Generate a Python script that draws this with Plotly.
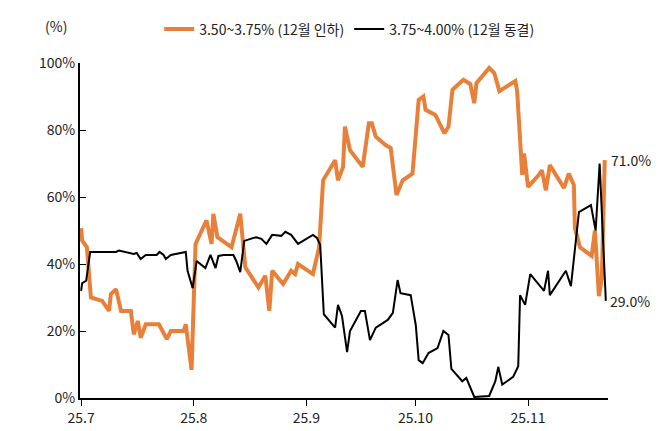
import plotly.graph_objects as go
import pandas as pd

start = pd.Timestamp("2025-07-01")
o_days = [0,0.3,1.6,2.7,5.8,7.7,8.2,9.6,11,13.7,14.5,15.6,16.4,17.8,21.4,23.6,24.7,28.2,28.8,30.4,31.5,34.5,35.9,36.4,37.5,41.4,43.8,45.2,48.8,50.7,51.8,52.6,55.6,57.8,58.9,59.7,63.8,65.5,66.6,69.9,70.7,72.1,72.6,74.0,77.5,79.2,80,81.1,83.8,85.2,86.8,88.5,91.2,92.9,94.2,94.8,97.5,100,101.1,102.2,105.2,107.1,108.2,108.8,112.3,113.7,115.1,119.5,120,121.4,121.9,123,126,126.8,127.9,129,132.9,134.2,135.6,135.9,137.3,140.5,141.4,142.5,143.3,144.1]
o_vals = [50.7,47,45,30,29,26,31,32.5,26,26,19,23,18,22,22,17.6,20,20,22,8.4,46,53,46,55,48,45,55,39,33,36.5,26,38,34,38,37,40,37,45,65,71,65,69,81,74,69,82,82,78,75.5,74.6,60.6,65,67,89,90,86,84.5,79,81,92,95,93.7,88,94,98.5,97,91.6,94.6,91.6,66.6,73,63,66.6,68,62,69.5,62.7,67,63.6,50.7,45,42.4,50,30.4,35.8,71]
b_days = [0,0.3,1.4,2.5,9.6,10.4,14.5,15.3,16.4,17.8,20.8,21.6,22.7,23.3,24.7,28.8,29.3,30.7,31.8,34.2,35.6,37,37.8,39.2,41.9,42.7,43.8,44.9,46.6,48.2,49.6,51,52.6,55.1,56.2,57.8,59.7,63.8,64.9,65.8,66.8,69.9,70.7,71.8,73.2,74,77,78.1,79.5,81.1,84.4,85.8,87.1,87.9,90.7,92.1,92.9,94,95.6,98.1,99.7,101.1,101.9,104.9,106,108.2,112.3,114,114.8,115.9,118.9,120.3,120.8,122.2,123.6,127.4,128.5,129,133.4,134.8,137,140.3,141.6,142.7,144.4]
b_vals = [32,34.3,35,43.6,43.6,44,43,43.3,41.5,42.7,42.7,43.6,42.7,41.5,42.7,43.6,38,32.8,40.9,38.8,42.7,38.8,42.4,42.7,42.7,40.9,37.6,46.9,47.5,48,47.5,46,48.7,48.4,49.6,48.7,46,48.7,47.8,45.7,25,21,27.8,24.5,13.7,20,26,26,17.3,21,23.3,25.4,35.2,31.3,30.7,21.8,11.3,10.4,13.4,14.9,20,18.8,8.7,5,6,0.3,0.6,5,9.3,4,6.3,9.5,30.7,27.8,37,32,38,30.7,38,33.4,55.5,57.6,50,70,29]
tick_days = [0,31,62,92,123]
tick_text = ["25.7","25.8","25.9","25.10","25.11"]
y_ticks = [0,20,40,60,80,100]
y_text = ["0%","20%","40%","60%","80%","100%"]
end_labels = ["71.0%","29.0%"]

to_dt = lambda ds: [start + pd.Timedelta(days=d) for d in ds]
F = "Noto Sans CJK KR"
fig = go.Figure()
fig.add_trace(go.Scatter(x=to_dt(o_days), y=o_vals, mode="lines", name="3.50~3.75% (12월 인하)",
                         line=dict(color="#E8803A", width=4)))
fig.add_trace(go.Scatter(x=to_dt(b_days), y=b_vals, mode="lines", name="3.75~4.00% (12월 동결)",
                         line=dict(color="#000000", width=2)))
fig.add_annotation(x=to_dt([o_days[-1]])[0], y=o_vals[-1], text=end_labels[0], showarrow=False,
                   xanchor="left", xshift=4, font=dict(size=14, color="#222"))
fig.add_annotation(x=to_dt([b_days[-1]])[0], y=b_vals[-1], text=end_labels[1], showarrow=False,
                   xanchor="left", xshift=2, font=dict(size=14, color="#222"))
fig.add_annotation(xref="paper", yref="paper", x=-0.07, y=1.11, text="(%)", showarrow=False,
                   xanchor="left", yanchor="middle", font=dict(size=14, color="#222"))
fig.update_layout(
    width=666, height=431, plot_bgcolor="white", paper_bgcolor="white",
    margin=dict(l=72, r=66, t=55, b=41, autoexpand=False),
    font=dict(family=F, size=14, color="#222"),
    legend=dict(orientation="h", x=0.15, y=1.1, xanchor="left", yanchor="middle",
                font=dict(size=14), bgcolor="rgba(0,0,0,0)"),
    showlegend=True,
)
fig.update_xaxes(range=to_dt([-0.3, 145]), tickvals=to_dt(tick_days), ticktext=tick_text,
                 showgrid=False, showline=True, linecolor="black", linewidth=2,
                 ticks="outside", ticklen=6, tickcolor="black", zeroline=False)
fig.update_yaxes(range=[0, 100], tickvals=y_ticks, ticktext=y_text,
                 showgrid=False, showline=True, linecolor="black", linewidth=2,
                 ticks="inside", ticklen=6, tickcolor="black", zeroline=False)
fig.write_html("out.html")
